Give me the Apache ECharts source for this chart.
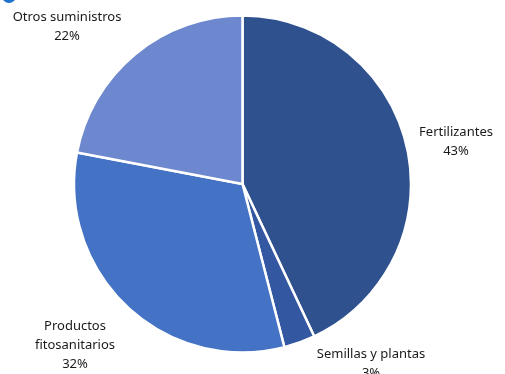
<!DOCTYPE html>
<html><head><meta charset="utf-8">
<script src="https://cdn.jsdelivr.net/npm/echarts@6/dist/echarts.min.js"></script>
<style>html,body{margin:0;padding:0;background:#fff}#c{width:505px;height:374px}</style>
</head><body><div id="c"></div>
<script>
const categories = ['Fertilizantes', 'Semillas y plantas', 'Productos\nfitosanitarios', 'Otros suministros'];
const values = [43, 3, 32, 22];
const colors = ['#2F528F', '#3357A0', '#4472C4', '#6E88CF'];
const labelPos = [[456, 142], [371, 364], [75, 345], [67, 27]];

const chart = echarts.init(document.getElementById('c'), null, {renderer: 'canvas'});
chart.setOption({
  animation: false,
  graphic: [{type: 'circle', shape: {cx: 9, cy: -4, r: 7}, style: {fill: '#1F74C9'}}],
  series: [{
    type: 'pie',
    center: [242.5, 184],
    radius: [0, 168.5],
    startAngle: 90,
    clockwise: true,
    data: categories.map((c, i) => ({name: c, value: values[i], itemStyle: {color: colors[i]}})),
    itemStyle: {borderColor: '#fff', borderWidth: 2.5},
    label: {
      show: true,
      position: 'outside',
      formatter: p => p.name + '\n' + p.value + '%',
      fontFamily: 'Noto Sans',
      fontSize: 13,
      lineHeight: 19,
      color: '#1a1a1a',
      align: 'center',
      overflow: 'none',
      width: 200
    },
    labelLine: {show: false},
    labelLayout: p => ({x: labelPos[p.dataIndex][0], y: labelPos[p.dataIndex][1], align: 'center', verticalAlign: 'middle'}),
    emphasis: {disabled: true}
  }]
});
</script></body></html>
